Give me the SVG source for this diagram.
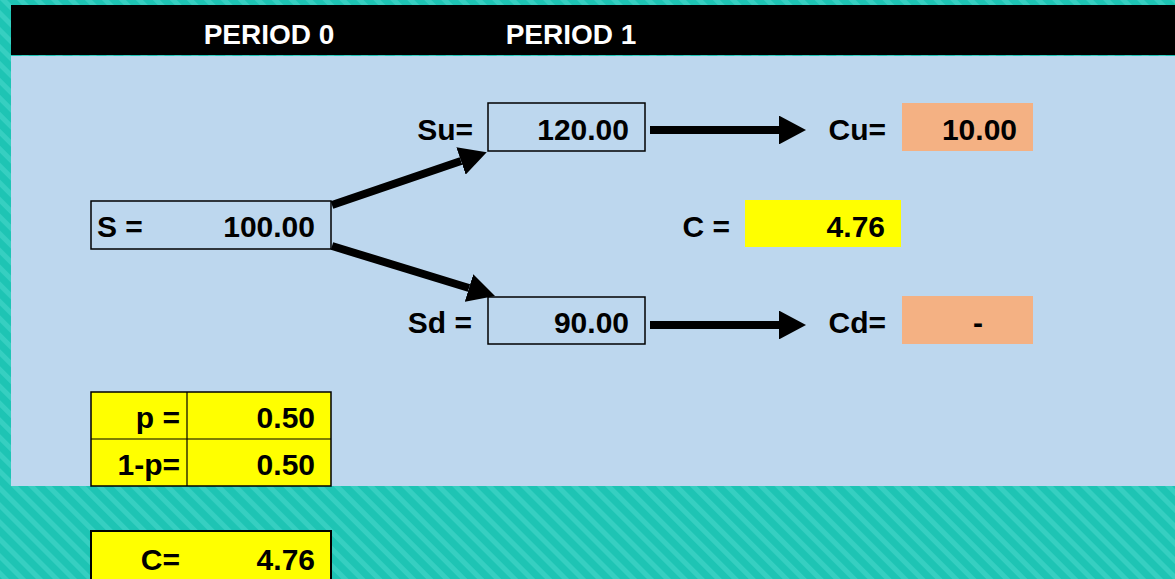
<svg xmlns="http://www.w3.org/2000/svg" width="1175" height="579" viewBox="0 0 1175 579">
<defs>
<pattern id="hatch" patternUnits="userSpaceOnUse" width="12" height="12" patternTransform="rotate(-45)">
<rect width="12" height="12" fill="#1ec4b4"/>
<rect width="5" height="12" fill="#36cfc1"/>
</pattern>
<marker id="ah" viewBox="0 0 10 10" refX="0" refY="5" markerWidth="3.4" markerHeight="3.6" preserveAspectRatio="none" orient="auto" markerUnits="strokeWidth">
<path d="M0,0 L10,5 L0,10 Z" fill="#000"/>
</marker>
<style>
text{font-family:"Liberation Sans",Arial,sans-serif;font-weight:bold;fill:#000;font-size:30px}
.hd{fill:#fff;font-size:28px}
.r{text-anchor:end}
.m{text-anchor:middle}
.box{fill:none;stroke:#000;stroke-width:1.5}
.yel{fill:#ffff00}
.org{fill:#f4b183}
.arr{stroke:#000;stroke-width:8;fill:none}
</style>
</defs>
<rect width="1175" height="579" fill="url(#hatch)"/>
<rect x="11" y="56" width="1164" height="430" fill="#bdd7ee"/>
<rect x="11" y="5" width="1164" height="50" fill="#000"/>
<text class="hd m" x="269" y="44">PERIOD 0</text>
<text class="hd m" x="571" y="44">PERIOD 1</text>

<g id="connectors">
<path class="arr" d="M332,205 L461,161" marker-end="url(#ah)"/>
<path class="arr" d="M332,246 L469,288" marker-end="url(#ah)"/>
<path class="arr" d="M650,130 L779,130" marker-end="url(#ah)"/>
<path class="arr" d="M650,325 L779,325" marker-end="url(#ah)"/>
</g>

<g id="node-s">
<rect class="box" x="91" y="201" width="240" height="48"/>
<text x="97" y="237">S =</text>
<text class="r" x="315" y="237">100.00</text>
</g>
<g id="node-su">
<text class="r" x="473" y="140">Su=</text>
<rect class="box" x="488" y="103" width="157" height="48"/>
<text class="r" x="629" y="140">120.00</text>
</g>
<g id="node-sd">
<text class="r" x="472" y="333">Sd =</text>
<rect class="box" x="488" y="297" width="157" height="47"/>
<text class="r" x="629" y="333">90.00</text>
</g>
<g id="node-cu">
<text class="r" x="886" y="140">Cu=</text>
<rect class="org" x="902" y="103" width="131" height="48"/>
<text class="r" x="1017" y="140">10.00</text>
</g>
<g id="node-c">
<text class="r" x="730" y="237">C =</text>
<rect class="yel" x="745" y="200" width="156" height="47"/>
<text class="r" x="885" y="237">4.76</text>
</g>
<g id="node-cd">
<text class="r" x="886" y="333">Cd=</text>
<rect class="org" x="902" y="296" width="131" height="48"/>
<text class="m" x="978" y="333">-</text>
</g>
<g id="node-p">
<rect class="yel" x="91" y="392" width="240" height="94" stroke="#000" stroke-width="1.5"/>
<line x1="187" y1="392" x2="187" y2="486" stroke="#000" stroke-width="1.2"/>
<line x1="91" y1="439" x2="331" y2="439" stroke="#000" stroke-width="1.2"/>
<text class="r" x="180" y="428">p =</text>
<text class="r" x="315" y="428">0.50</text>
<text class="r" x="180" y="475">1-p=</text>
<text class="r" x="315" y="475">0.50</text>
</g>
<g id="node-cres">
<rect class="yel" x="91" y="531" width="240" height="60" stroke="#000" stroke-width="2"/>
<text class="r" x="180" y="570">C=</text>
<text class="r" x="315" y="570">4.76</text>
</g>
</svg>
